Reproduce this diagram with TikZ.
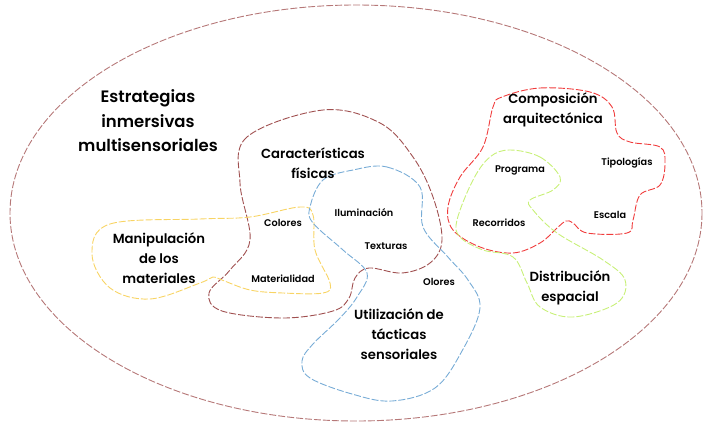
\documentclass[tikz,border=0pt]{standalone}
\usepackage{fontspec}
\setmainfont{Poppins}[BoldFont={Poppins SemiBold}]
\usetikzlibrary{positioning}

\definecolor{ovalbrown}{RGB}{182,120,120}
\definecolor{fisbrown}{RGB}{160,80,80}
\definecolor{manyellow}{RGB}{248,212,100}
\definecolor{tacblue}{RGB}{120,172,214}
\definecolor{comred}{RGB}{240,60,60}
\definecolor{disgreen}{RGB}{200,240,120}

\tikzset{
  blob/.style={line width=0.9pt, dash pattern=on 7pt off 2pt},
  bigtitle/.style={font=\bfseries\fontsize{16.5}{24.5}\selectfont, align=center, text=black},
  title/.style={font=\bfseries\fontsize{13.2}{20}\selectfont, align=center, text=black},
  item/.style={font=\bfseries\fontsize{9.7}{11}\selectfont, text=black}
}

\begin{document}
\begin{tikzpicture}[x=1pt,y=-1pt]
\useasboundingbox (0,0) rectangle (703,422);

% outer oval
\draw[blob,ovalbrown] (356,213) ellipse [x radius=346, y radius=208];

% caracteristicas fisicas
\draw[blob,fisbrown] plot[smooth cycle, tension=0.6] coordinates {(323,110) (247,137) (240,183) (250,240) (230,270) (209,293) (222,311) (283,318) (333,311) (349,298) (355,278) (369,268) (402,273) (430,263) (442,240) (433,197) (413,157) (380,123)};

% manipulacion de los materiales
\draw[blob,manyellow] plot[smooth cycle, tension=0.6] coordinates {(92,254) (110,224) (200,219) (250,217) (300,207) (313,215) (315,250) (330,283) (323,293) (283,293) (250,290) (222,280) (213,277) (200,283) (150,299) (110,288)};

% utilizacion de tacticas sensoriales
\draw[blob,tacblue] plot[smooth cycle, tension=0.6] coordinates {(353,170) (387,167) (420,187) (423,227) (447,256) (468,280) (480,308) (462,351) (435,388) (392,401) (352,394) (310,378) (302,361) (313,344) (340,318) (357,297) (367,273) (343,250) (313,223) (310,207) (323,180)};

% composicion arquitectonica
\draw[blob,comred] plot[smooth cycle, tension=0.6] coordinates {(502,97) (540,88) (590,92) (612,107) (617,133) (630,142) (660,147) (665,163) (660,185) (640,195) (633,220) (627,233) (587,233) (573,223) (566,221) (557,228) (540,243) (513,253) (480,247) (453,230) (448,207) (460,177) (483,147) (493,107)};

% distribucion espacial
\draw[blob,disgreen] plot[smooth cycle, tension=0.6] coordinates {(510,150) (540,157) (560,177) (553,190) (530,200) (533,210) (557,233) (603,260) (625,280) (617,303) (573,317) (540,307) (527,283) (513,257) (483,250) (460,237) (457,220) (473,180) (490,157)};

\node[bigtitle] (estr) at (148,121) {Estrategias\\inmersivas\\multisensoriales};
\node[title] (car) at (313,163) {Características\\físicas};
\node[title] (man) at (159,258) {Manipulación\\de los\\materiales};
\node[title] (uti) at (399,334) {Utilización de\\tácticas\\sensoriales};
\node[title] (com) at (553,110) {Composición\\arquitectónica};
\node[title] (dis) at (570,288) {Distribución\\espacial};

\node[item] (col) at (283,223) {Colores};
\node[item] (ilu) at (364,213) {Iluminación};
\node[item] (tex) at (386,246) {Texturas};
\node[item] (mat) at (283,279) {Materialidad};
\node[item] (olo) at (439,282) {Olores};
\node[item] (pro) at (520,170) {Programa};
\node[item] (tip) at (627,163) {Tipologías};
\node[item] (rec) at (499,223) {Recorridos};
\node[item] (esc) at (610,215) {Escala};
\end{tikzpicture}
\end{document}
